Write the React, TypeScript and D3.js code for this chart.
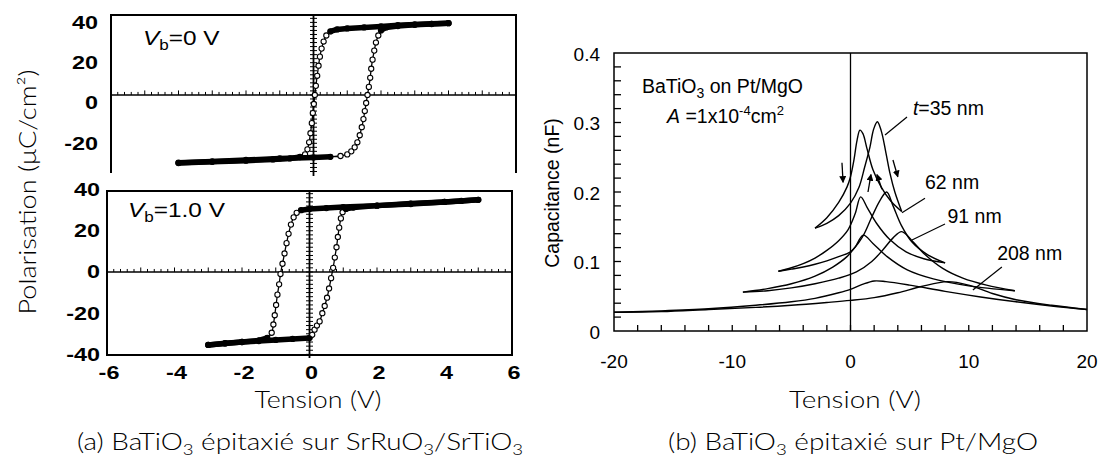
import React, { useLayoutEffect, useRef, useState } from 'react';
import * as d3 from 'd3';

type Pt = [number, number];

const W = 1099;
const H = 461;

// ---------- Panel (a): P–V hysteresis loops ----------
const tensionTicksA = [-6, -4, -2, 0, 2, 4, 6];
const polTicksTop = [-20, 0, 20, 40];
const polTicksBottom = [-40, -20, 0, 20, 40];

// Vb = 0 V : descending sweep (+V -> -V) and ascending sweep (-V -> +V)
const vb0Down: Pt[] = [
  [4.0, 39.6], [3.5, 39.3], [3.0, 39.0], [2.5, 38.6], [2.0, 38.0], [1.5, 37.5], [1.0, 37.0], [0.7, 36.5],
  [0.5, 35.5], [0.38, 33.5], [0.3, 30.5], [0.24, 27], [0.19, 23], [0.15, 18.5], [0.11, 13.5], [0.07, 8.5],
  [0.04, 4], [0.01, -0.5], [-0.02, -5], [-0.05, -10], [-0.09, -15], [-0.13, -19.5], [-0.18, -23],
  [-0.25, -25.5], [-0.4, -26.8], [-0.7, -27.5], [-1.2, -28], [-2.0, -28.6], [-3.0, -29.2], [-4.0, -29.8],
];
const vb0Up: Pt[] = [
  [-4.0, -29.6], [-3.0, -29.0], [-2.0, -28.3], [-1.0, -27.5], [0.0, -27.0], [0.5, -26.7], [0.8, -26.3],
  [1.0, -25.5], [1.12, -24], [1.22, -22], [1.3, -19.5], [1.37, -16], [1.43, -12], [1.48, -8], [1.52, -4],
  [1.56, 0], [1.6, 4], [1.64, 8], [1.68, 12.5], [1.71, 17], [1.75, 21.5], [1.8, 26], [1.85, 30],
  [1.92, 33.5], [2.0, 36], [2.15, 37.5], [2.5, 38.2], [3.0, 38.8], [3.5, 39.2], [4.0, 39.6],
];

// Vb = 1.0 V
const vb1Down: Pt[] = [
  [5.0, 35], [4.5, 34.5], [4.0, 34], [3.0, 33], [2.0, 32.2], [1.0, 31.5], [0.5, 31], [0.0, 30.6],
  [-0.25, 30], [-0.38, 28.7], [-0.47, 26.5], [-0.55, 23], [-0.62, 18.5], [-0.68, 14], [-0.74, 9],
  [-0.8, 4], [-0.86, -1], [-0.9, -6], [-0.95, -11], [-0.99, -16], [-1.03, -21], [-1.07, -25.5],
  [-1.12, -29.5], [-1.25, -32], [-1.5, -33.2], [-2.0, -34], [-2.5, -34.7], [-3.0, -35.4],
];
const vb1Up: Pt[] = [
  [-3.0, -35.4], [-2.5, -34.6], [-2.0, -34], [-1.5, -33.5], [-1.0, -33], [-0.5, -32.5], [0.0, -32],
  [0.08, -30.5], [0.15, -28], [0.22, -26], [0.3, -24], [0.38, -20], [0.45, -16.5], [0.52, -12.5],
  [0.58, -8], [0.64, -3], [0.7, 2], [0.75, 7], [0.8, 12], [0.84, 17], [0.88, 21.5], [0.93, 26],
  [0.98, 29], [1.08, 30.6], [1.3, 31.3], [2.0, 32.2], [3.0, 33.2], [4.0, 34], [5.0, 35],
];

// ---------- Panel (b): C–V butterfly curves ----------
const tensionTicksB = [-20, -10, 0, 10, 20];
const capTicks = [0, 0.1, 0.2, 0.3, 0.4];
const capMinorTicks = d3.range(0.02, 0.4, 0.02);
const tensionMinorTicksB = d3.range(-18, 20, 2);

const c35Rev: Pt[] = [[-3, 0.148], [-2, 0.163], [-1, 0.185], [-0.3, 0.207], [0, 0.222], [0.3, 0.247], [0.55, 0.274], [0.8, 0.289], [1.05, 0.284], [1.4, 0.262], [1.9, 0.232], [2.6, 0.207], [3.4, 0.187], [4.33, 0.172]];
const c35Fwd: Pt[] = [[-3, 0.148], [-2, 0.155], [-1, 0.166], [0, 0.184], [0.7, 0.206], [1.2, 0.236], [1.65, 0.265], [1.95, 0.29], [2.27, 0.301], [2.6, 0.288], [3.0, 0.256], [3.35, 0.226], [3.75, 0.2], [4.33, 0.172]];
const c62Rev: Pt[] = [[-6.1, 0.086], [-5, 0.091], [-4, 0.097], [-3, 0.105], [-2, 0.116], [-1, 0.13], [-0.2, 0.146], [0.4, 0.169], [0.86, 0.193], [1.4, 0.178], [2.2, 0.155], [3.3, 0.132], [4.7, 0.114], [6.2, 0.104], [8.0, 0.098]];
const c62Fwd: Pt[] = [[-6.1, 0.086], [-5, 0.089], [-4, 0.092], [-3, 0.096], [-2, 0.101], [-1, 0.107], [0, 0.114], [1, 0.135], [1.8, 0.164], [2.5, 0.188], [3.06, 0.2], [3.6, 0.18], [4.3, 0.152], [5.2, 0.128], [6.5, 0.11], [8.0, 0.098]];
const c91Rev: Pt[] = [[-9.1, 0.056], [-7, 0.061], [-5, 0.068], [-3, 0.079], [-1.5, 0.092], [-0.3, 0.107], [0.4, 0.121], [1.08, 0.138], [1.9, 0.126], [3.1, 0.107], [4.8, 0.088], [7, 0.075], [10, 0.065], [13.9, 0.058]];
const c91Fwd: Pt[] = [[-9.1, 0.056], [-7, 0.058], [-5, 0.062], [-3, 0.068], [-1, 0.076], [0.5, 0.085], [1.8, 0.1], [2.8, 0.118], [3.6, 0.134], [4.33, 0.143], [5.2, 0.13], [6.3, 0.11], [7.8, 0.09], [9.5, 0.076], [11.5, 0.066], [13.9, 0.058]];
const c208Rev: Pt[] = [[-20, 0.027], [-16, 0.029], [-12, 0.032], [-8, 0.037], [-5, 0.042], [-3, 0.047], [-1, 0.055], [0, 0.06], [1, 0.067], [2, 0.072], [3, 0.071], [5, 0.066], [8, 0.057], [11, 0.049], [14, 0.042], [17, 0.036], [20, 0.031]];
const c208Fwd: Pt[] = [[-20, 0.027], [-16, 0.028], [-12, 0.031], [-8, 0.034], [-5, 0.037], [-2, 0.041], [0, 0.044], [2, 0.048], [4, 0.055], [6, 0.064], [8.2, 0.071], [10, 0.066], [12, 0.054], [14, 0.045], [17, 0.037], [20, 0.031]];

// sweep-direction arrows [from, to] in (V, C)
const sweepArrows: [Pt, Pt][] = [
  [[-0.72, 0.242], [-0.63, 0.214]],
  [[1.48, 0.2], [1.73, 0.225]],
  [[2.66, 0.204], [2.24, 0.225]],
  [[3.59, 0.246], [4.0, 0.222]],
];
const thicknessLabels = ['t=35 nm', '62 nm', '91 nm', '208 nm'];
const labelAnchors: Pt[] = [[5.28, 0.311], [6.3, 0.205], [8.2, 0.156], [12.4, 0.102]];
const leaderFrom: Pt[] = [[4.78, 0.308], [6.3, 0.191], [7.99, 0.154], [12.8, 0.092]];
const leaderTo: Pt[] = [[2.92, 0.282], [4.35, 0.17], [5.2, 0.131], [10.35, 0.059]];

const SANS = "'Liberation Sans', Arial, Helvetica, sans-serif";
const TEX = "Lato, 'Open Sans', 'DejaVu Sans', sans-serif";

// ---------- scales ----------
const xTop = d3.scaleLinear().domain([-6, 6]).range([111, 516]);
const yTop = d3.scaleLinear().domain([-34.74, 43.67]).range([173, 15]);
const xBot = d3.scaleLinear().domain([-6, 6]).range([107, 512]);
const yBot = d3.scaleLinear().domain([-40.3, 39.3]).range([355, 191]);
const xB = d3.scaleLinear().domain([-20, 20]).range([614, 1087]);
const yB = d3.scaleLinear().domain([0, 0.4]).range([331, 53]);

type LoopProps = {
  xS: d3.ScaleLinear<number, number>;
  yS: d3.ScaleLinear<number, number>;
  down: Pt[];
  up: Pt[];
  hi: number;
  lo: number;
  refP: number;
  full: boolean;
};

function Loop({ xS, yS, down, up, hi, lo, refP, full }: LoopProps) {
  const [x0, x1] = xS.range();
  const [y0, y1] = yS.range();
  const thin = d3.line<Pt>().x(d => xS(d[0])).y(d => yS(d[1])).curve(d3.curveCatmullRom.alpha(0.5));
  const sat = d3.line<Pt>().defined(d => d[1] >= hi || d[1] <= lo).x(d => xS(d[0])).y(d => yS(d[1]));
  const yRef = yS(refP);
  const xZero = xS(0);
  const hTicks = d3.range(-6, 6.01, 0.2);
  const vTicks = d3.range(Math.ceil(yS.domain()[0] / 2) * 2, yS.domain()[1], 2);
  return (
    <g>
      <line x1={x0} x2={x1} y1={yRef} y2={yRef} stroke="#000" strokeWidth={1.6} />
      {hTicks.map((t, i) => (
        <line key={'h' + i} x1={xS(t)} x2={xS(t)} y1={yRef} y2={yRef - (Math.abs(t - Math.round(t)) < 0.01 ? 4.5 : 3)} stroke="#000" strokeWidth={1} />
      ))}
      <line x1={xZero} x2={xZero} y1={y1} y2={y0 + 3} stroke="#000" strokeWidth={1.8} />
      {vTicks.map((t, i) => (
        <line key={'v' + i} x1={xZero - 3.5} x2={xZero + 3.5} y1={yS(t)} y2={yS(t)} stroke="#000" strokeWidth={1} />
      ))}
      {full ? (
        <rect x={x0} y={y1} width={x1 - x0} height={y0 - y1} fill="none" stroke="#000" strokeWidth={2} />
      ) : (
        <path d={`M${x0},${y0} L${x0},${y1} L${x1},${y1} L${x1},${y0}`} fill="none" stroke="#000" strokeWidth={2} />
      )}
      <path d={thin(down) ?? ''} fill="none" stroke="#000" strokeWidth={1.3} />
      <path d={thin(up) ?? ''} fill="none" stroke="#000" strokeWidth={1.3} />
      {[...down, ...up].map((d, i) => (
        <circle key={'c' + i} cx={xS(d[0])} cy={yS(d[1])} r={2.6} fill="#fff" stroke="#000" strokeWidth={1.1} />
      ))}
      <path d={sat(down) ?? ''} fill="none" stroke="#000" strokeWidth={5.5} strokeLinecap="round" strokeLinejoin="round" />
      <path d={sat(up) ?? ''} fill="none" stroke="#000" strokeWidth={5.5} strokeLinecap="round" strokeLinejoin="round" />
    </g>
  );
}

function StretchText({ x, y, s, anchor = 'middle', size = 18, children }: any) {
  return (
    <g transform={`translate(${x},${y}) scale(${s},1)`}>
      <text x={0} y={0} textAnchor={anchor} dominantBaseline="central" fontFamily={SANS} fontSize={size} fontWeight="bold" fill="#000">
        {children}
      </text>
    </g>
  );
}

// Text scaled along its direction so that it spans a target width
function FitText({ x, y, width, rotate = 0, size = 24, children }: any) {
  const ref = useRef<SVGTextElement>(null);
  const [s, setS] = useState(1);
  useLayoutEffect(() => {
    const measure = () => {
      if (ref.current) {
        const w = ref.current.getComputedTextLength();
        if (w > 0) setS(width / w);
      }
    };
    measure();
    if ((document as any).fonts && (document as any).fonts.ready) {
      (document as any).fonts.ready.then(measure);
    }
  }, [width]);
  return (
    <g transform={`translate(${x},${y}) rotate(${rotate}) scale(${s},1)`}>
      <text ref={ref} x={0} y={0} textAnchor="middle" fontFamily={TEX} fontWeight={300} fontSize={size} fill="#000">
        {children}
      </text>
    </g>
  );
}

function VbLabel({ x, y, value }: { x: number; y: number; value: string }) {
  return (
    <g transform={`translate(${x},${y}) scale(1.22,1)`}>
      <text x={0} y={0} fontFamily={SANS} fontSize={20} fill="#000">
        <tspan fontStyle="italic">V</tspan>
        <tspan fontSize={14} dy={5}>b</tspan>
        <tspan dy={-5}>{'=' + value + ' V'}</tspan>
      </text>
    </g>
  );
}

export default function App() {
  const capLine = d3.line<Pt>().x(d => xB(d[0])).y(d => yB(d[1])).curve(d3.curveCatmullRom.alpha(0.5));
  const capCurves: Pt[][] = [c35Rev, c35Fwd, c62Rev, c62Fwd, c91Rev, c91Fwd, c208Rev, c208Fwd];
  return (
    <svg width={W} height={H} viewBox={`0 0 ${W} ${H}`} style={{ position: 'absolute', left: 0, top: 0, background: '#fff' }}>
      <defs>
        <marker id="ah" viewBox="0 0 8 8" refX={7} refY={4} markerWidth={7} markerHeight={7} markerUnits="userSpaceOnUse" orient="auto">
          <path d="M0,0 L8,4 L0,8 z" fill="#000" />
        </marker>
      </defs>
      <rect x={0} y={0} width={W} height={H} fill="#fff" />

      {/* ===== Panel (a) ===== */}
      <Loop xS={xTop} yS={yTop} down={vb0Down} up={vb0Up} hi={35} lo={-26.5} refP={4} full={false} />
      <Loop xS={xBot} yS={yBot} down={vb1Down} up={vb1Up} hi={29.9} lo={-32} refP={0} full={true} />
      <VbLabel x={143} y={45} value="0" />
      <VbLabel x={128} y={217} value="1.0" />

      {polTicksTop.map(t => (
        <StretchText key={'pt' + t} x={98} y={yTop(t)} s={1.3} anchor="end">{t}</StretchText>
      ))}
      {polTicksBottom.map(t => (
        <StretchText key={'pb' + t} x={100} y={yBot(t)} s={1.3} anchor="end">{t}</StretchText>
      ))}
      {tensionTicksA.map(t => (
        <StretchText key={'ta' + t} x={xBot(t) + 2} y={373} s={1.3} anchor="middle">{t}</StretchText>
      ))}
      <FitText x={318} y={408} width={127} size={24}>Tension (V)</FitText>
      <FitText x={36} y={192} width={245} rotate={-90} size={24}>Polarisation (μC/cm²)</FitText>
      <FitText x={300} y={450} width={446} size={24}>
        (a) BaTiO<tspan fontSize={16} dy={5}>3</tspan><tspan dy={-5}> épitaxié sur SrRuO</tspan><tspan fontSize={16} dy={5}>3</tspan><tspan dy={-5}>/SrTiO</tspan><tspan fontSize={16} dy={5}>3</tspan>
      </FitText>

      {/* ===== Panel (b) ===== */}
      <rect x={xB(-20)} y={yB(0.4)} width={xB(20) - xB(-20)} height={yB(0) - yB(0.4)} fill="none" stroke="#000" strokeWidth={1.5} />
      <line x1={xB(0)} x2={xB(0)} y1={yB(0)} y2={yB(0.4)} stroke="#000" strokeWidth={1.3} />
      {capMinorTicks.map((t, i) => (
        <line key={'cm' + i} x1={xB(-20)} x2={xB(-20) + 7} y1={yB(t)} y2={yB(t)} stroke="#000" strokeWidth={1.3} />
      ))}
      {tensionMinorTicksB.map((t, i) => (
        <line key={'tm' + i} x1={xB(t)} x2={xB(t)} y1={yB(0)} y2={yB(0) - 6} stroke="#000" strokeWidth={1.3} />
      ))}
      {capTicks.map(t => (
        <text key={'ct' + t} x={600} y={yB(t) + 1} textAnchor="end" dominantBaseline="central" fontFamily={SANS} fontSize={19} fill="#000">
          {t === 0 ? '0' : t.toFixed(1)}
        </text>
      ))}
      {tensionTicksB.map(t => (
        <text key={'tb' + t} x={xB(t)} y={361} textAnchor="middle" dominantBaseline="central" fontFamily={SANS} fontSize={19} fill="#000">
          {t}
        </text>
      ))}
      <text transform="translate(559,193) rotate(-90)" textAnchor="middle" fontFamily={SANS} fontSize={19.5} fill="#000">
        Capacitance (nF)
      </text>

      {capCurves.map((c, i) => (
        <path key={'cc' + i} d={capLine(c) ?? ''} fill="none" stroke="#000" strokeWidth={1.4} />
      ))}
      {sweepArrows.map((a, i) => (
        <line key={'ar' + i} x1={xB(a[0][0])} y1={yB(a[0][1])} x2={xB(a[1][0])} y2={yB(a[1][1])} stroke="#000" strokeWidth={1.3} markerEnd="url(#ah)" />
      ))}
      {thicknessLabels.map((lab, i) => (
        <g key={'tl' + i}>
          <line x1={xB(leaderFrom[i][0])} y1={yB(leaderFrom[i][1])} x2={xB(leaderTo[i][0])} y2={yB(leaderTo[i][1])} stroke="#000" strokeWidth={1.2} />
          <text x={xB(labelAnchors[i][0])} y={yB(labelAnchors[i][1])} fontFamily={SANS} fontSize={19.5} fill="#000">
            {lab.startsWith('t=') ? (
              <>
                <tspan fontStyle="italic">t</tspan>
                <tspan>{lab.slice(1)}</tspan>
              </>
            ) : lab}
          </text>
        </g>
      ))}
      <text x={642} y={93} fontFamily={SANS} fontSize={19.5} fill="#000">
        BaTiO<tspan fontSize={14} dy={5}>3</tspan><tspan dy={-5}> on Pt/MgO</tspan>
      </text>
      <text x={667} y={123} fontFamily={SANS} fontSize={19.5} fill="#000">
        <tspan fontStyle="italic">A</tspan> =1x10<tspan fontSize={13} dy={-8}>-4</tspan><tspan dy={8}>cm</tspan><tspan fontSize={13} dy={-8}>2</tspan>
      </text>

      <FitText x={853} y={450} width={370} size={24}>
        (b) BaTiO<tspan fontSize={16} dy={5}>3</tspan><tspan dy={-5}> épitaxié sur Pt/MgO</tspan>
      </FitText>
      <FitText x={855} y={408} width={132} size={24}>Tension (V)</FitText>
    </svg>
  );
}
